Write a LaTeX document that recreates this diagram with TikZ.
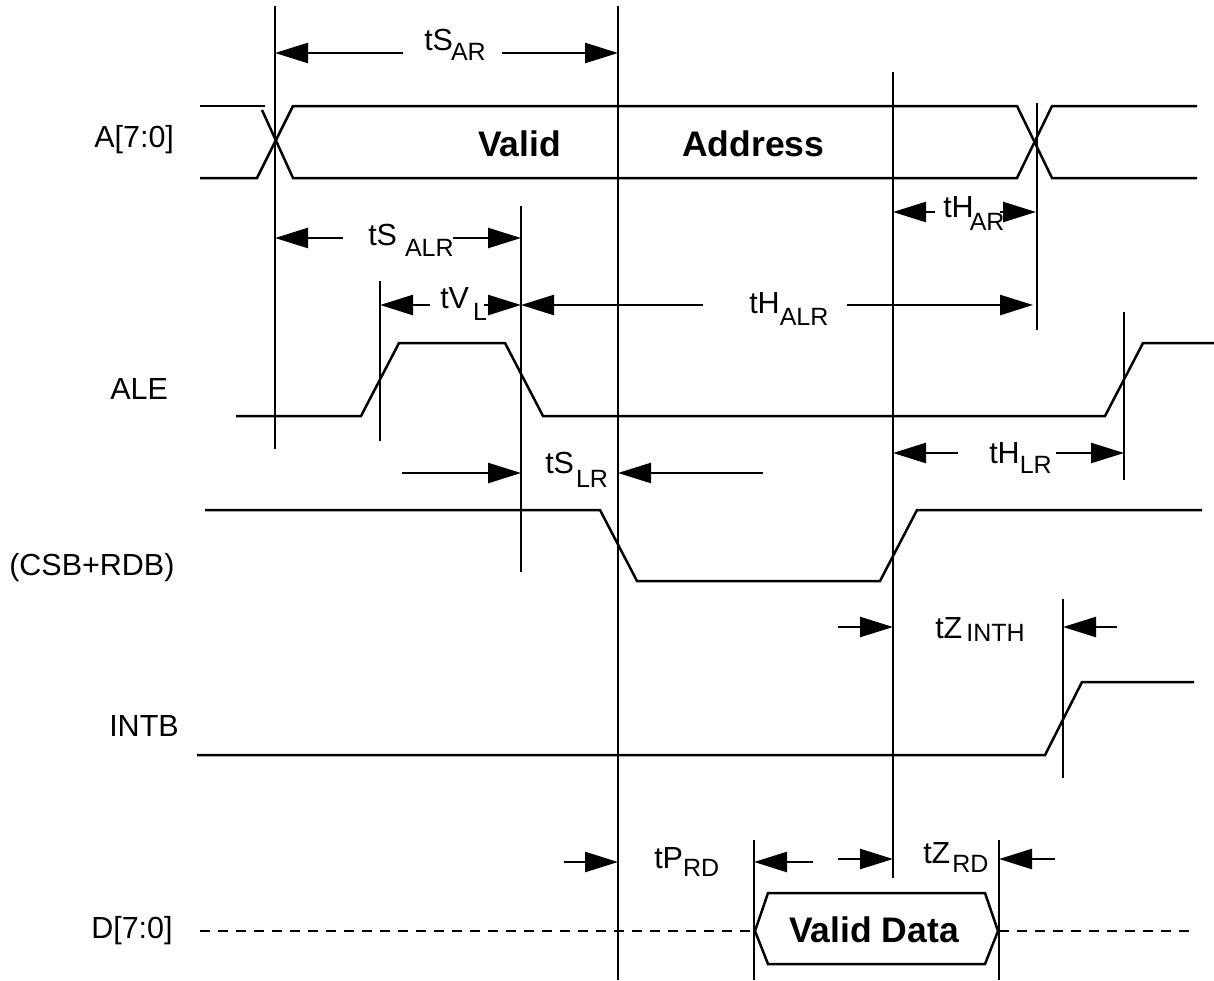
\documentclass[tikz,border=0pt]{standalone}
\usepackage{fontspec}
\setmainfont{Liberation Sans}
\usetikzlibrary{arrows.meta}

\newcommand{\tname}[4]{#3\hspace{#1}\raisebox{-#2}{\fontsize{25}{25}\selectfont #4}}

\begin{document}
\begin{tikzpicture}[x=1pt,y=-1pt,line width=2.5pt,>={Triangle[length=33pt,width=20pt]},
  dimline/.style={->},
  sigtext/.style={anchor=base west,inner sep=0pt,font=\fontsize{30.5}{30.5}\selectfont},
  timetext/.style={anchor=base west,inner sep=0pt,font=\fontsize{30.5}{30.5}\selectfont},
  boldtext/.style={anchor=base west,inner sep=0pt,font=\fontsize{35.5}{35.5}\selectfont\bfseries}]
\useasboundingbox (0,0) rectangle (1214,980);

  % signals
  \node[sigtext] (addr) at (93,147) {A[7:0]};
  \node[sigtext] (ale) at (109,399) {ALE};
  \node[sigtext] (csrd) at (8,575) {(CSB+RDB)};
  \node[sigtext] (intb) at (108,736) {INTB};
  \node[sigtext] (data) at (90,938) {D[7:0]};
  \node[boldtext] (valid) at (477,156) {Valid};
  \node[boldtext] (address) at (681,156) {Address};
  \node[boldtext] (validdata) at (788,942) {Valid Data};

  % waveforms
  \draw (200,106) -- (265,106);
  \draw (200,178) -- (257,178) -- (293,106) -- (1017,106) -- (1052,178) -- (1197,178);
  \draw (262,110) -- (293,178) -- (1017,178) -- (1052,106) -- (1197,106);
  \draw (236,416) -- (361,416) -- (399,343) -- (505,343) -- (543,416) -- (1105,416) -- (1143,343) -- (1214,343);
  \draw (205,510) -- (600,510) -- (637,581) -- (880,581) -- (917,510) -- (1202,510);
  \draw (197,755) -- (1045,755) -- (1082,682) -- (1194,682);
  \draw[dashed,dash pattern=on 10pt off 8pt] (200,931) -- (754,931);
  \draw[dashed,dash pattern=on 10pt off 8pt] (999,931) -- (1190,931);
  \draw (755,931) -- (768,893) -- (985,893) -- (998,931) -- (985,964) -- (768,964) -- cycle;

  % markers
  \foreach \mname/\mx/\mtop/\mbot in {ma/275/6/449,mb/618/6/980,mc/521/206/572,md/380/281/441,
      me/893/72/878,mf/1037/103/330,mg/1124/312/480,mh/1063/599/778,mi/754/840/980,mj/999/840/980}{
    \coordinate (\mname top) at (\mx,\mtop);
    \coordinate (\mname bot) at (\mx,\mbot);
    \draw (\mname top) -- (\mname bot);
  }

  % timing arrows
  \foreach \aname/\ax/\bx/\ay in {sarl/403/275/53,sarr/502/618/53,salrl/343/275/238,salrr/453/521/238,
      vll/430/380/305,vlr/484/521/305,halrl/703/521/305,halrr/847/1033/305,harl/935/893/212,harr/1000/1036/212,
      hlrl/958/893/453,hlrr/1056/1124/453,slrl/402/521/473,slrr/763/618/473,zintl/838/893/627,zintr/1117/1063/627,
      prdl/564/618/862,prdr/813/754/862,zrdl/838/893/859,zrdr/1055/999/859}{
    \coordinate (\aname from) at (\ax,\ay);
    \coordinate (\aname to) at (\bx,\ay);
    \draw[dimline] (\aname from) -- (\aname to);
  }

  % timing labels
  \node[timetext] (tsar) at (423,50) {\tname{-2pt}{10pt}{tS}{AR}};
  \node[timetext] (tsalr) at (367,245) {\tname{8pt}{11pt}{tS}{ALR}};
  \node[timetext] (tvl) at (439,308) {\tname{4pt}{12pt}{tV}{L}};
  \node[timetext] (thalr) at (748,313) {\tname{0pt}{12pt}{tH}{ALR}};
  \node[timetext] (thar) at (942,217) {\tname{-4pt}{13pt}{tH}{AR}};
  \node[timetext] (thlr) at (988,463) {\tname{0pt}{10pt}{tH}{LR}};
  \node[timetext] (tslr) at (544,473) {\tname{2pt}{14pt}{tS}{LR}};
  \node[timetext] (tzinth) at (934,638) {\tname{4pt}{3pt}{tZ}{INTH}};
  \node[timetext] (tprd) at (653,868) {\tname{0pt}{8pt}{tP}{RD}};
  \node[timetext] (tzrd) at (922,863) {\tname{2pt}{9pt}{tZ}{RD}};
\end{tikzpicture}
\end{document}
